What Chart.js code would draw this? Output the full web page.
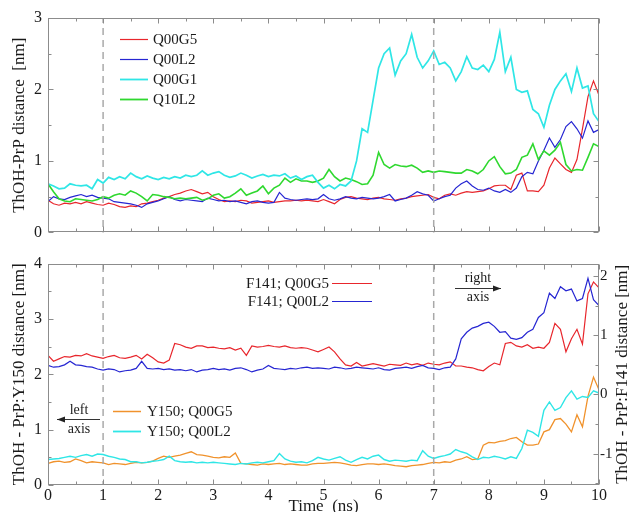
<!DOCTYPE html>
<html><head><meta charset="utf-8">
<script src="https://cdn.jsdelivr.net/npm/chart.js@4"></script>
<style>
html,body{margin:0;padding:0;background:#fff;}
#wrap{position:relative;width:630px;height:512px;overflow:hidden;background:#fff;}
canvas{position:absolute;left:0;}
#c1{top:0;}
#c2{top:248px;}
</style></head><body>
<div id="wrap"><canvas id="c1" width="630" height="248"></canvas><canvas id="c2" width="630" height="264"></canvas></div>
<script>
// ---------- data ----------
const times = [0.0,0.1,0.2,0.3,0.4,0.5,0.6,0.7,0.8,0.9,
1.0,1.1,1.2,1.3,1.4,1.5,1.6,1.7,1.8,1.9,
2.0,2.1,2.2,2.3,2.4,2.5,2.6,2.7,2.8,2.9,
3.0,3.1,3.2,3.3,3.4,3.5,3.6,3.7,3.8,3.9,
4.0,4.1,4.2,4.3,4.4,4.5,4.6,4.7,4.8,4.9,
5.0,5.1,5.2,5.3,5.4,5.5,5.6,5.7,5.8,5.9,
6.0,6.1,6.2,6.3,6.4,6.5,6.6,6.7,6.8,6.9,
7.0,7.1,7.2,7.3,7.4,7.5,7.6,7.7,7.8,7.9,
8.0,8.1,8.2,8.3,8.4,8.5,8.6,8.7,8.8,8.9,
9.0,9.1,9.2,9.3,9.4,9.5,9.6,9.7,9.8,9.9,10.0];

const markers = [1, 7];
const xTicks = [0,1,2,3,4,5,6,7,8,9,10];
const topTicks = [0,1,2,3];
const leftTicks = [0,1,2,3,4];
const rightTicks = [-1,0,1,2];

// top panel: ThOH-PrP distance [nm]
const topQ00G5 = [0.45,0.40,0.38,0.41,0.40,0.42,0.40,0.43,0.41,0.39,
0.38,0.41,0.39,0.36,0.35,0.37,0.36,0.40,0.41,0.43,
0.45,0.48,0.50,0.53,0.55,0.58,0.60,0.57,0.54,0.56,
0.50,0.46,0.43,0.44,0.43,0.45,0.44,0.41,0.42,0.43,
0.44,0.42,0.43,0.44,0.44,0.45,0.44,0.45,0.44,0.43,
0.46,0.43,0.40,0.46,0.49,0.50,0.48,0.47,0.46,0.48,
0.49,0.47,0.46,0.45,0.47,0.48,0.50,0.51,0.52,0.53,
0.49,0.47,0.52,0.54,0.52,0.55,0.57,0.56,0.57,0.58,
0.61,0.65,0.66,0.66,0.60,0.80,0.83,0.58,0.58,0.57,
0.66,0.90,1.04,0.96,0.88,0.84,1.02,1.45,1.90,2.12,1.92];

const topQ00L2 = [0.43,0.50,0.47,0.46,0.49,0.51,0.53,0.50,0.52,0.49,
0.48,0.47,0.43,0.42,0.41,0.40,0.38,0.35,0.40,0.42,
0.44,0.47,0.50,0.46,0.44,0.46,0.45,0.44,0.43,0.48,
0.46,0.44,0.45,0.43,0.44,0.42,0.40,0.43,0.44,0.42,
0.41,0.42,0.56,0.48,0.46,0.45,0.46,0.47,0.46,0.47,
0.53,0.47,0.45,0.47,0.50,0.48,0.47,0.49,0.48,0.47,
0.48,0.50,0.53,0.44,0.46,0.48,0.52,0.57,0.54,0.52,
0.44,0.47,0.50,0.52,0.62,0.68,0.72,0.65,0.60,0.59,
0.62,0.58,0.56,0.60,0.56,0.62,0.78,0.84,0.82,1.00,
1.15,1.32,1.19,1.30,1.48,1.55,1.45,1.32,1.56,1.40,1.44];

const topQ00G1 = [0.68,0.65,0.61,0.62,0.68,0.66,0.65,0.66,0.61,0.74,
0.69,0.77,0.74,0.78,0.75,0.83,0.78,0.75,0.79,0.76,
0.74,0.77,0.75,0.78,0.76,0.80,0.78,0.80,0.86,0.80,
0.83,0.85,0.80,0.77,0.79,0.83,0.80,0.76,0.79,0.81,
0.78,0.80,0.79,0.82,0.76,0.79,0.74,0.78,0.80,0.70,
0.62,0.66,0.61,0.67,0.65,0.72,1.00,1.45,1.40,1.85,
2.30,2.50,2.58,2.20,2.40,2.50,2.77,2.45,2.30,2.40,
2.54,2.35,2.38,2.30,2.12,2.25,2.46,2.30,2.28,2.34,
2.25,2.42,2.80,2.25,2.45,2.00,1.96,1.98,1.72,1.66,
1.47,1.78,2.00,2.12,2.22,1.97,2.30,2.02,2.05,1.66,1.55];

const topQ10L2 = [0.68,0.57,0.47,0.44,0.43,0.47,0.46,0.45,0.44,0.46,
0.50,0.48,0.52,0.54,0.52,0.58,0.55,0.50,0.44,0.53,
0.52,0.50,0.49,0.47,0.48,0.47,0.48,0.49,0.45,0.47,
0.52,0.54,0.48,0.50,0.55,0.61,0.52,0.55,0.58,0.65,
0.54,0.62,0.66,0.76,0.70,0.75,0.72,0.72,0.70,0.72,
0.76,0.88,0.78,0.72,0.76,0.74,0.71,0.67,0.68,0.80,
1.12,0.95,0.90,0.95,0.93,0.92,0.94,0.90,0.84,0.86,
0.84,0.86,0.85,0.84,0.83,0.83,0.88,0.86,0.82,0.88,
1.00,1.06,0.92,0.82,0.83,0.88,1.05,1.08,1.24,1.02,
1.14,1.08,1.15,1.26,0.95,0.86,0.88,0.87,1.05,1.24,1.20];

// bottom panel, right axis: ThOH - PrP:F141 distance [nm]
const botF141G5 = [0.66,0.56,0.60,0.64,0.63,0.66,0.65,0.69,0.65,0.63,
0.61,0.64,0.66,0.62,0.61,0.63,0.66,0.60,0.68,0.62,
0.55,0.53,0.58,0.86,0.84,0.80,0.78,0.82,0.82,0.79,
0.80,0.78,0.77,0.79,0.75,0.78,0.66,0.82,0.80,0.81,
0.83,0.81,0.80,0.82,0.79,0.78,0.79,0.78,0.75,0.72,
0.76,0.80,0.72,0.60,0.50,0.48,0.54,0.48,0.50,0.52,
0.50,0.48,0.51,0.50,0.49,0.53,0.50,0.52,0.49,0.53,
0.51,0.50,0.53,0.55,0.48,0.48,0.46,0.45,0.42,0.40,
0.47,0.53,0.50,0.86,0.88,0.82,0.80,0.84,0.78,0.80,
0.78,0.88,1.20,1.10,0.72,0.94,1.10,0.85,1.70,1.90,1.80];

const botF141L2 = [0.49,0.46,0.47,0.50,0.56,0.50,0.49,0.47,0.46,0.43,
0.41,0.43,0.42,0.38,0.40,0.41,0.44,0.56,0.44,0.43,
0.44,0.42,0.43,0.41,0.42,0.40,0.42,0.38,0.41,0.42,
0.44,0.42,0.43,0.41,0.44,0.45,0.42,0.38,0.41,0.43,
0.49,0.44,0.43,0.42,0.44,0.43,0.45,0.46,0.44,0.45,
0.44,0.43,0.46,0.45,0.43,0.44,0.46,0.45,0.44,0.43,
0.45,0.42,0.41,0.44,0.45,0.46,0.44,0.47,0.49,0.45,
0.44,0.42,0.45,0.46,0.60,0.94,1.05,1.12,1.15,1.20,
1.22,1.15,1.05,1.06,0.95,0.93,0.96,1.05,1.10,1.30,
1.38,1.71,1.62,1.82,1.75,1.78,1.58,1.62,1.96,1.60,1.50];

// bottom panel, left axis: ThOH - PrP:Y150 distance [nm]
const botY150G5 = [0.39,0.42,0.43,0.41,0.42,0.47,0.44,0.40,0.42,0.41,
0.40,0.37,0.39,0.38,0.37,0.39,0.41,0.40,0.41,0.43,
0.48,0.52,0.50,0.52,0.54,0.57,0.60,0.55,0.54,0.52,
0.50,0.49,0.51,0.50,0.58,0.39,0.38,0.37,0.36,0.38,
0.37,0.38,0.39,0.37,0.38,0.37,0.36,0.36,0.38,0.39,
0.39,0.40,0.41,0.40,0.38,0.36,0.35,0.37,0.38,0.38,
0.37,0.38,0.37,0.35,0.34,0.33,0.35,0.36,0.37,0.39,
0.41,0.40,0.42,0.41,0.45,0.47,0.51,0.46,0.47,0.72,
0.77,0.76,0.79,0.80,0.84,0.86,0.78,0.72,0.72,0.74,
0.96,1.00,1.18,1.20,1.10,0.96,1.27,1.05,1.60,1.95,1.72];

const botY150L2 = [0.46,0.47,0.48,0.50,0.52,0.50,0.53,0.55,0.52,0.56,
0.55,0.52,0.50,0.47,0.46,0.42,0.42,0.40,0.41,0.43,
0.44,0.46,0.52,0.44,0.42,0.41,0.42,0.40,0.41,0.40,
0.41,0.40,0.39,0.38,0.37,0.39,0.38,0.40,0.41,0.40,
0.42,0.44,0.57,0.47,0.43,0.41,0.42,0.40,0.44,0.50,
0.47,0.45,0.48,0.51,0.45,0.41,0.46,0.50,0.47,0.52,
0.54,0.46,0.43,0.45,0.44,0.43,0.45,0.44,0.62,0.52,
0.48,0.51,0.53,0.56,0.64,0.60,0.57,0.51,0.46,0.50,
0.49,0.52,0.50,0.47,0.51,0.48,0.66,0.99,0.95,0.88,
1.35,1.50,1.35,1.40,1.58,1.70,1.55,1.60,1.58,1.70,1.66];

// ---------- styling ----------
const SERIF = "'Liberation Serif','Times New Roman','DejaVu Serif',serif";
const C = {red:'#e8262c', blue:'#2626d2', cyan:'#2fe6e6', green:'#2fd82f', orange:'#f0922c', frame:'#8c8c8c', dash:'#a9a9a9', text:'#1a1a1a'};

function series(vals) { return times.map((t, i) => ({x: t, y: vals[i]})); }
function line(label, vals, color, w, axis) {
  return {label, data: series(vals), borderColor: color, borderWidth: w, pointRadius: 0, tension: 0, fill: false, yAxisID: axis};
}
function markerSets(axis) {
  return markers.map(m => ({label: 'marker', data: [{x: m, y: -100}, {x: m, y: 100}], borderColor: C.dash, borderWidth: 1.5, borderDash: [7, 5], pointRadius: 0, yAxisID: axis}));
}

const decor = {
  id: 'decor',
  afterDatasetsDraw(chart, args, o) {
    const {ctx, chartArea: a, scales} = chart;
    ctx.save();
    const seg = (x1, y1, x2, y2) => { ctx.beginPath(); ctx.moveTo(x1, y1); ctx.lineTo(x2, y2); ctx.stroke(); };
    ctx.strokeStyle = C.frame; ctx.lineWidth = 1;
    const L = Math.round(a.left) + 0.5, R = Math.round(a.right) - 0.5, T = Math.round(a.top) + 0.5, B = Math.round(a.bottom) - 0.5;
    ctx.strokeRect(L, T, R - L, B - T);
    const steps = (s) => { const out = []; for (let v = Math.ceil(s.min / 0.5) * 0.5; v <= s.max + 1e-9; v += 0.5) out.push(Math.round(v * 2) / 2); return out; };
    const xs = scales.x;
    steps(xs).forEach(v => { const p = Math.round(xs.getPixelForValue(v)) + 0.5; const len = Number.isInteger(v) ? 5 : 3; seg(p, B, p, B - len); seg(p, T, p, T + len); });
    const yl = scales[o.leftAxis];
    steps(yl).forEach(v => { const p = Math.round(yl.getPixelForValue(v)) + 0.5; const len = Number.isInteger(v) ? 5 : 3; seg(L, p, L + len, p); if (!o.rightAxis) seg(R, p, R - len, p); });
    if (o.rightAxis) {
      const yr = scales[o.rightAxis];
      steps(yr).forEach(v => { const p = Math.round(yr.getPixelForValue(v)) + 0.5; const len = Number.isInteger(v) ? 5 : 3; seg(R, p, R - len, p); });
    }
    // legend entries
    (o.items || []).forEach(it => {
      ctx.strokeStyle = it.color; ctx.lineWidth = it.lw; ctx.setLineDash([]);
      seg(it.x1, it.y + 0.5, it.x2, it.y + 0.5);
      ctx.fillStyle = C.text; ctx.font = '15px ' + SERIF; ctx.textBaseline = 'middle'; ctx.textAlign = it.align;
      ctx.fillText(it.label, it.tx, it.y + 1.5);
    });
    // axis notes with arrows
    (o.notes || []).forEach(n => {
      ctx.fillStyle = C.text; ctx.font = '14px ' + SERIF; ctx.textBaseline = 'middle'; ctx.textAlign = 'center';
      ctx.fillText(n.top, n.cx, n.yTop);
      ctx.fillText(n.bottom, n.cx, n.yBottom);
      ctx.strokeStyle = '#333'; ctx.lineWidth = 1;
      seg(n.x1, n.y + 0.5, n.x2, n.y + 0.5);
      const hx = n.head === 'left' ? n.x1 : n.x2, d = n.head === 'left' ? 1 : -1;
      ctx.beginPath(); ctx.moveTo(hx, n.y + 0.5); ctx.lineTo(hx + d * 8, n.y - 2.5); ctx.lineTo(hx + d * 8, n.y + 3.5); ctx.closePath(); ctx.fillStyle = '#222'; ctx.fill();
    });
    // right-side title
    if (o.rightTitle) {
      ctx.save();
      ctx.translate(o.rightTitle.x, (a.top + a.bottom) / 2);
      ctx.rotate(-Math.PI / 2);
      ctx.fillStyle = C.text; ctx.font = '17px ' + SERIF; ctx.textAlign = 'center'; ctx.textBaseline = 'middle';
      ctx.fillText(o.rightTitle.text, 0, 0);
      ctx.restore();
    }
    ctx.restore();
  }
};

const tickFont = {family: SERIF, size: 16};
const titleFont = {family: SERIF, size: 17};
const noGrid = {display: false, drawTicks: false};
const noBorder = {display: false};

// ---------- top chart ----------
new Chart(document.getElementById('c1'), {
  type: 'line',
  data: {datasets: [
    ...markerSets('y'),
    line('Q00G1', topQ00G1, C.cyan, 1.7, 'y'),
    line('Q10L2', topQ10L2, C.green, 1.6, 'y'),
    line('Q00L2', topQ00L2, C.blue, 1.2, 'y'),
    line('Q00G5', topQ00G5, C.red, 1.2, 'y')
  ]},
  options: {
    responsive: false, animation: false, devicePixelRatio: 1,
    layout: {padding: {top: 18, left: 0, right: 0, bottom: 0}},
    plugins: {
      legend: {display: false}, tooltip: {enabled: false},
      decor: {
        leftAxis: 'y',
        items: [
          {label: 'Q00G5', color: C.red, lw: 1.2, x1: 120, x2: 148, tx: 153, y: 39, align: 'left'},
          {label: 'Q00L2', color: C.blue, lw: 1.2, x1: 120, x2: 148, tx: 153, y: 59, align: 'left'},
          {label: 'Q00G1', color: C.cyan, lw: 1.8, x1: 120, x2: 148, tx: 153, y: 79, align: 'left'},
          {label: 'Q10L2', color: C.green, lw: 1.8, x1: 120, x2: 148, tx: 153, y: 99, align: 'left'}
        ]
      }
    },
    scales: {
      x: {type: 'linear', min: 0, max: 10, ticks: {display: false}, grid: noGrid, border: noBorder, afterFit(s) { s.height = 7; }},
      y: {type: 'linear', position: 'left', min: 0, max: 3,
          afterBuildTicks(s) { s.ticks = topTicks.map(v => ({value: v})); },
          ticks: {font: tickFont, color: C.text, padding: 6},
          grid: noGrid, border: noBorder,
          title: {display: true, text: 'ThOH-PrP distance  [nm]', font: titleFont, color: C.text, padding: {top: 9, bottom: 0}},
          afterFit(s) { s.width = 48; }},
      yR: {type: 'linear', position: 'right', min: 0, max: 3, ticks: {display: false}, grid: noGrid, border: noBorder, afterFit(s) { s.width = 31; }}
    }
  },
  plugins: [decor]
});

// ---------- bottom chart ----------
new Chart(document.getElementById('c2'), {
  type: 'line',
  data: {datasets: [
    ...markerSets('y'),
    line('Y150; Q00L2', botY150L2, C.cyan, 1.4, 'y'),
    line('Y150; Q00G5', botY150G5, C.orange, 1.3, 'y'),
    line('F141; Q00L2', botF141L2, C.blue, 1.2, 'yR'),
    line('F141; Q00G5', botF141G5, C.red, 1.2, 'yR')
  ]},
  options: {
    responsive: false, animation: false, devicePixelRatio: 1,
    layout: {padding: {top: 8, left: 0, right: 0, bottom: 0}},
    plugins: {
      legend: {display: false}, tooltip: {enabled: false},
      decor: {
        leftAxis: 'y', rightAxis: 'yR',
        items: [
          {label: 'F141; Q00G5', color: C.red, lw: 1.2, x1: 332, x2: 372, tx: 329, y: 35, align: 'right'},
          {label: 'F141; Q00L2', color: C.blue, lw: 1.2, x1: 332, x2: 372, tx: 329, y: 53, align: 'right'},
          {label: 'Y150; Q00G5', color: C.orange, lw: 1.5, x1: 113, x2: 141, tx: 147, y: 163, align: 'left'},
          {label: 'Y150; Q00L2', color: C.cyan, lw: 1.8, x1: 113, x2: 141, tx: 147, y: 183, align: 'left'}
        ],
        notes: [
          {top: 'left', bottom: 'axis', cx: 79, yTop: 162, yBottom: 181, x1: 57, x2: 100, y: 171, head: 'left'},
          {top: 'right', bottom: 'axis', cx: 478, yTop: 30, yBottom: 49, x1: 455, x2: 501, y: 40, head: 'right'}
        ],
        rightTitle: {text: 'ThOH - PrP:F141 distance [nm]', x: 623}
      }
    },
    scales: {
      x: {type: 'linear', min: 0, max: 10,
          afterBuildTicks(s) { s.ticks = xTicks.map(v => ({value: v})); },
          ticks: {font: tickFont, color: C.text, padding: 1, maxRotation: 0},
          grid: noGrid, border: noBorder,
          title: {display: true, text: 'Time  (ns)', font: titleFont, color: C.text, padding: {top: 0, bottom: -5}},
          afterFit(s) { s.width = s.width; s.height = 27; }},
      y: {type: 'linear', position: 'left', min: 0, max: 4,
          afterBuildTicks(s) { s.ticks = leftTicks.map(v => ({value: v})); },
          ticks: {font: tickFont, color: C.text, padding: 6},
          grid: noGrid, border: noBorder,
          title: {display: true, text: 'ThOH - PrP:Y150 distance [nm]', font: titleFont, color: C.text, padding: {top: 9, bottom: 0}},
          afterFit(s) { s.width = 48; }},
      yR: {type: 'linear', position: 'right', min: -1.53, max: 2.21,
          afterBuildTicks(s) { s.ticks = rightTicks.map(v => ({value: v})); },
          ticks: {font: {family: SERIF, size: 15}, color: C.text, padding: 1},
          grid: noGrid, border: noBorder,
          afterFit(s) { s.width = 31; }}
    }
  },
  plugins: [decor]
});
</script>
</body></html>
